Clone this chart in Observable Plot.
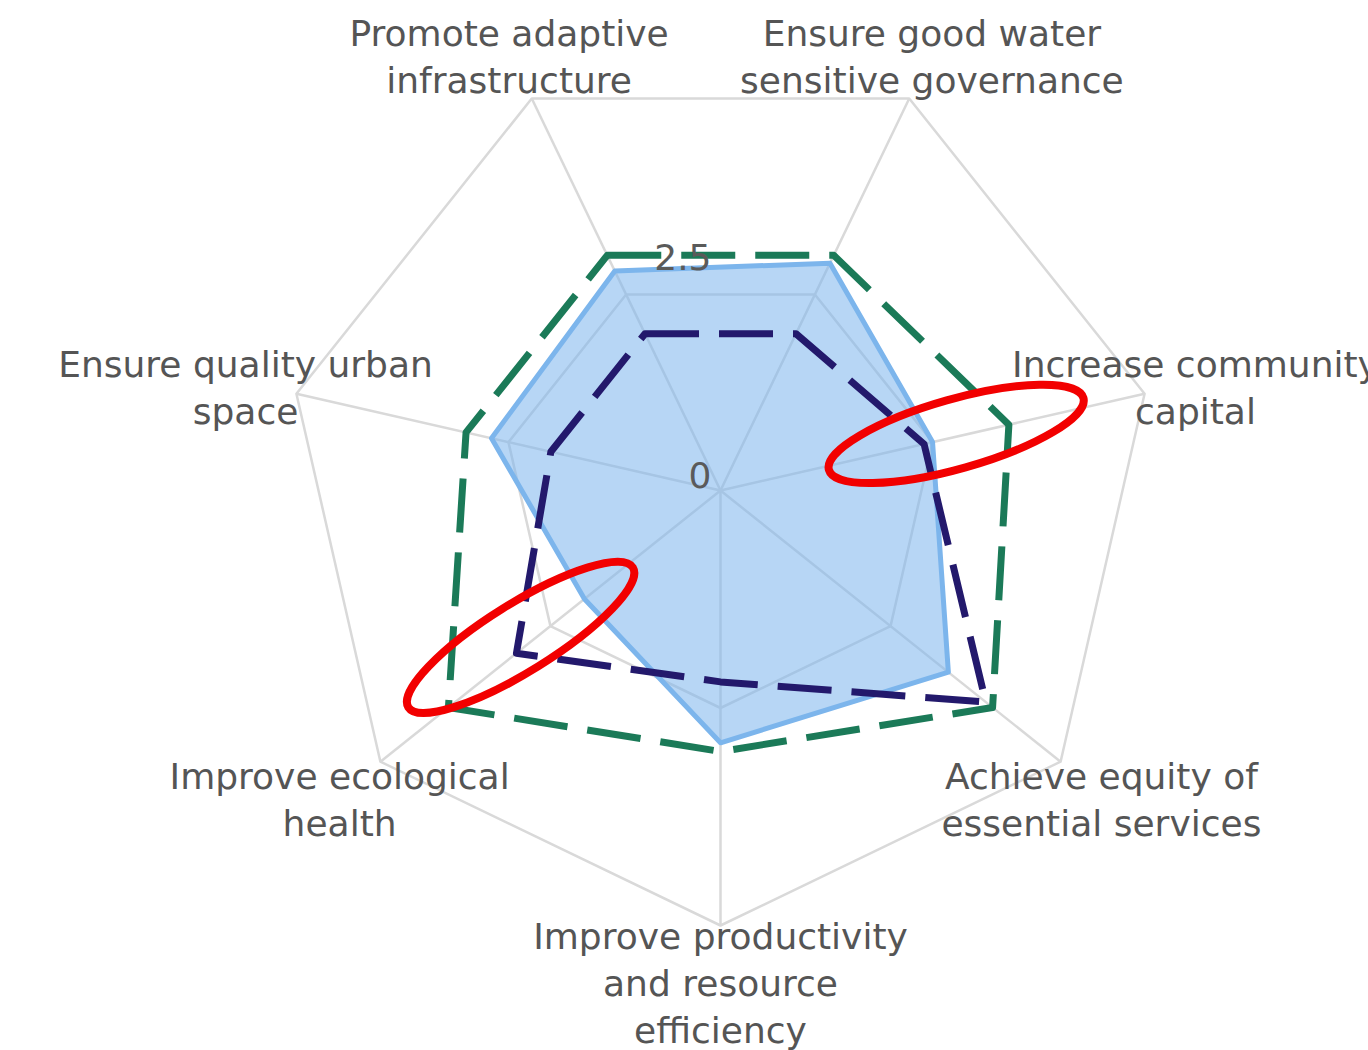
<!DOCTYPE html>
<html>
<head>
<meta charset="utf-8">
<script src="https://cdn.jsdelivr.net/npm/d3@7"></script>
<script src="https://cdn.jsdelivr.net/npm/@observablehq/plot@0.6"></script>
<style>
  html, body { margin: 0; padding: 0; background: #fff; overflow: hidden; }
</style>
</head>
<body>
<div id="chart"></div>
<script>
// ---- data ----
const categories = [
  "Promote adaptive\ninfrastructure",
  "Ensure good water\nsensitive governance",
  "Increase community\ncapital",
  "Achieve equity of\nessential services",
  "Improve productivity\nand resource\nefficiency",
  "Improve ecological\nhealth",
  "Ensure quality urban\nspace"
];
const seriesBlue  = [2.8, 2.9, 2.5, 3.35, 2.9, 2.0, 2.7];
const seriesGreen = [3.0, 3.0, 3.4, 4.0, 3.0, 4.0, 3.0];
const seriesNavy  = [2.0, 2.0, 2.4, 3.9, 2.2, 3.0, 2.0];
const gridLevels = [2.5, 5];
const tickValues = [0, 2.5];
const maxValue = 5;
// circled (highlighted) categories
const highlightAxes = ["Increase community\ncapital", "Improve ecological\nhealth"];
const highlightValues = [2.79, 2.85];

// ---- polar helpers ----
const n = categories.length;
const angle = i => (i - 0.5) * 2 * Math.PI / n; // clockwise from top, "between" placement
const pt = (i, v) => ({x: v * Math.sin(angle(i)), y: v * Math.cos(angle(i))});
const poly = vals => vals.map((v, i) => ({...pt(i, v), i}));

const grid = gridLevels.flatMap(l => categories.map((c, i) => ({...pt(i, l), level: l})));
const spokes = categories.map((c, i) => ({...pt(i, maxValue), c}));
const labelR = maxValue * 1.12;
const labels = categories.map((c, i) => ({...pt(i, labelR), text: c}));

const dash = {curve: "linear-closed", strokeWidth: 7, strokeDasharray: "54,20", strokeLinecap: "butt", strokeLinejoin: "round"};

const plot = Plot.plot({
  width: 1368,
  height: 1050,
  marginLeft: 285,
  marginRight: 213,
  marginTop: 55,
  marginBottom: 125,
  x: {domain: [-maxValue, maxValue], axis: null},
  y: {domain: [-maxValue, maxValue], axis: null},
  style: {fontFamily: "'DejaVu Sans', sans-serif", background: "white", overflow: "hidden"},
  marks: [
    Plot.link(spokes, {x1: d => 0, y1: d => 0, x2: "x", y2: "y", stroke: "#d9d9d9", strokeWidth: 2.5}),
    Plot.line(grid, {x: "x", y: "y", z: "level", curve: "linear-closed", stroke: "#d9d9d9", strokeWidth: 2.5}),
    Plot.line(poly(seriesBlue), {x: "x", y: "y", curve: "linear-closed", fill: "#7cb5ec", fillOpacity: 0.55,
      stroke: "#7cb5ec", strokeWidth: 5, strokeLinejoin: "round"}),
    Plot.line(poly(seriesNavy), {x: "x", y: "y", stroke: "#23196c", ...dash}),
    Plot.line(poly(seriesGreen), {x: "x", y: "y", stroke: "#1b7a58", ...dash}),
    Plot.text(tickValues, {x: d => 0, y: d => d, text: d => String(d), textAnchor: "end", lineAnchor: "bottom",
      dx: -9, dy: -3, fontSize: 36, fill: "#5a5a5a"}),
    Plot.text(labels, {x: "x", y: "y", text: "text", fontSize: 36, lineHeight: 1.31, lineAnchor: "middle",
      textAnchor: "middle", dy: 3, fill: "#555555"})
  ]
});
document.getElementById("chart").appendChild(plot);

// ---- red hand-drawn rings around highlighted categories ----
const sx = plot.scale("x"), sy = plot.scale("y");
const unit = sx.apply(1) - sx.apply(0);
const ringGeom = [
  {turn: -0.5, rx: 1.52, ry: 0.40, tilt: -15.8},
  {turn: 2.1, rx: 1.52, ry: 0.39, tilt: -31.9}
];
const g = d3.select(plot).append("g").attr("fill", "none").attr("stroke", "#f20000").attr("stroke-width", 8);
highlightAxes.forEach((c, k) => {
  const i = categories.indexOf(c);
  const a = angle(i) + ringGeom[k].turn * Math.PI / 180;
  const v = highlightValues[k];
  const cx = sx.apply(v * Math.sin(a)), cy = sy.apply(v * Math.cos(a));
  g.append("ellipse")
    .attr("cx", 0).attr("cy", 0)
    .attr("rx", ringGeom[k].rx * unit).attr("ry", ringGeom[k].ry * unit)
    .attr("transform", `translate(${cx},${cy}) rotate(${ringGeom[k].tilt})`);
});
</script>
</body>
</html>
